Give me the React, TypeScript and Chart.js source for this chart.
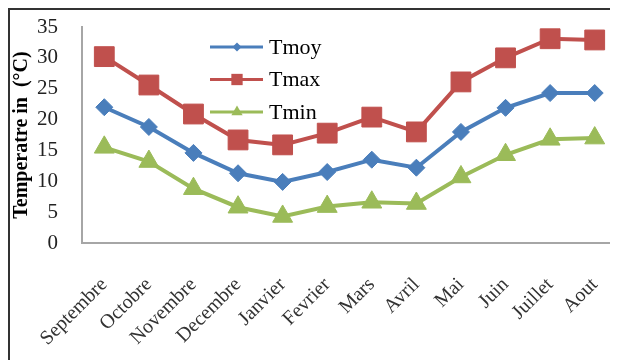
import React, { useEffect, useRef } from "react";
import { Chart, registerables } from "chart.js";

Chart.register(...registerables);

const months = ["Septembre", "Octobre", "Novembre", "Decembre", "Janvier", "Fevrier", "Mars", "Avril", "Mai", "Juin", "Juillet", "Aout"];
const tmoy = [22.0, 18.8, 14.6, 11.3, 9.9, 11.5, 13.5, 12.2, 18.0, 21.9, 24.3, 24.3];
const tmax = [30.2, 25.6, 20.9, 16.7, 15.9, 17.8, 20.4, 18.0, 26.1, 30.0, 33.1, 32.9];
const tmin = [15.5, 13.2, 8.8, 5.8, 4.3, 5.9, 6.6, 6.4, 10.7, 14.3, 16.8, 17.0];
const yTitle = "Temperatre in  (°C)";

const BLUE = "#4a7ebb";
const RED = "#c0504d";
const GREEN = "#9bbb59";

function drawMarker(ctx: CanvasRenderingContext2D, style: string, x: number, y: number, r: number) {
  ctx.beginPath();
  if (style === "rectRot") {
    ctx.moveTo(x - r, y);
    ctx.lineTo(x, y - r);
    ctx.lineTo(x + r, y);
    ctx.lineTo(x, y + r);
  } else if (style === "rect") {
    const s = r * Math.SQRT1_2;
    ctx.rect(x - s, y - s, 2 * s, 2 * s);
  } else {
    ctx.moveTo(x, y - r);
    ctx.lineTo(x + 0.866 * r, y + r / 2);
    ctx.lineTo(x - 0.866 * r, y + r / 2);
  }
  ctx.closePath();
  ctx.fill();
}

const legendPlugin = {
  id: "insideLegend",
  afterDraw(chart: any) {
    const ctx = chart.ctx as CanvasRenderingContext2D;
    const radii = [4.5, 8, 6.5];
    chart.data.datasets.forEach((ds: any, i: number) => {
      const y = 37 + i * 32.5;
      ctx.save();
      ctx.strokeStyle = ds.borderColor;
      ctx.lineWidth = 3;
      ctx.beginPath();
      ctx.moveTo(200, y);
      ctx.lineTo(253, y);
      ctx.stroke();
      ctx.fillStyle = ds.borderColor;
      drawMarker(ctx, ds.pointStyle, 227, y, radii[i]);
      ctx.fillStyle = "#000";
      ctx.font = "22px 'Liberation Serif'";
      ctx.textBaseline = "middle";
      ctx.textAlign = "left";
      ctx.fillText(ds.label, 259, y + 1);
      ctx.restore();
    });
  },
};

export default function App() {
  const ref = useRef<HTMLCanvasElement>(null);
  useEffect(() => {
    if (!ref.current) return;
    const mk = (label: string, data: number[], color: string, style: string, r: number) => ({
      label,
      data,
      borderColor: color,
      backgroundColor: color,
      pointBackgroundColor: color,
      pointBorderColor: color,
      borderWidth: 4,
      pointStyle: style,
      pointRadius: r,
      pointBorderWidth: 1,
      tension: 0,
      clip: false,
    });
    const chart = new Chart(ref.current, {
      type: "line",
      data: {
        labels: months,
        datasets: [
          mk("Tmoy", tmoy, BLUE, "rectRot", 8.5),
          mk("Tmax", tmax, RED, "rect", 14),
          mk("Tmin", tmin, GREEN, "triangle", 11.5),
        ],
      },
      options: {
        animation: false,
        responsive: false,
        devicePixelRatio: 1,
        layout: { autoPadding: false, padding: { left: 0, top: 17, right: 1, bottom: 0 } },
        plugins: { legend: { display: false }, tooltip: { enabled: false } },
        scales: {
          x: {
            offset: true,
            grid: { display: false, drawTicks: false },
            border: { display: true, color: "#a6a6a6", width: 2 },
            ticks: {
              color: "#333",
              font: { family: "'Liberation Serif'", size: 20 },
              maxRotation: 45,
              minRotation: 45,
              padding: 30,
              autoSkip: false,
            },
            afterFit: (s: any) => { s.height = 117; s.paddingLeft = 0; s.paddingRight = 0; },
          },
          y: {
            min: 0,
            max: 35,
            grid: { display: false, drawTicks: false },
            border: { display: true, color: "#a6a6a6", width: 2 },
            ticks: {
              stepSize: 5,
              autoSkip: false,
              color: "#222",
              font: { family: "'Liberation Serif'", size: 21 },
              padding: 24,
            },
            title: {
              display: true,
              text: yTitle,
              color: "#000",
              font: { family: "'Liberation Serif'", size: 20, weight: "bold" },
              padding: { top: 0, bottom: 0 },
            },
            afterFit: (s: any) => { s.width = 72; s.paddingTop = 0; s.paddingBottom = 0; },
          },
        },
      },
      plugins: [legendPlugin],
    } as any);
    return () => chart.destroy();
  }, []);
  return (
    <div style={{ width: 608, height: 350, borderLeft: "2px solid #333", borderTop: "2px solid #333", overflow: "hidden", background: "#fff" }}>
      <canvas ref={ref} width={608} height={350} style={{ display: "block" }} />
    </div>
  );
}
